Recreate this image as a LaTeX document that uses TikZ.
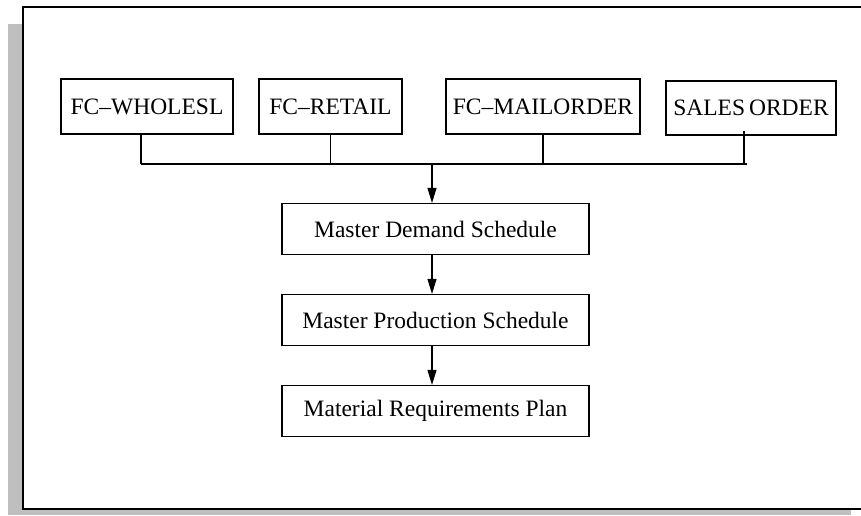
\documentclass[tikz,border=0pt]{standalone}
\usepackage{fontspec}
\setmainfont{Liberation Serif}
\usetikzlibrary{arrows.meta,positioning}
\definecolor{shadec}{HTML}{BFBFBF}

\begin{document}
\begin{tikzpicture}[
    x=1pt,y=-1pt,
    font=\fontsize{23.5}{27}\selectfont,
    box/.style={draw,line width=1.2pt,minimum width=#1,minimum height=55pt,inner sep=0pt},
    plan/.style={draw,line width=1.2pt,minimum width=307pt,minimum height=51pt,inner sep=0pt},
    wire/.style={line width=1.2pt},
    flow/.style={line width=1.2pt,-{Triangle[length=15pt,width=9pt]}},
  ]
\useasboundingbox (0,0) rectangle (861,515);

% ======================= frame with shadow =======================
\fill[shadec] (8,24) rectangle (851,515);
\fill[white] (23,7) rectangle (870,509);
\draw[line width=2.6pt] (23,7) rectangle (870,509);

% ======================= forecast / order sources =======================
\node[box=172pt] (whl)   at (147,106.5) {FC--WHOLESL};
\node[box=143pt] (ret)   at (330.5,106.5) {FC--RETAIL};
\node[box=194pt] (mail)  at (543,106.5) {FC--MAILORDER};
\node[box=170pt,minimum height=54pt] (sales) at (751,108) {SALES\,ORDER};

% collecting bus
\coordinate (busL) at (141,164);
\coordinate (busR) at (747,164);
\coordinate (busM) at (432,164);
\draw[wire] (busL) -- (busR);
\draw[wire] ([xshift=-6pt]whl.south) -- ([xshift=-6pt]whl.south |- busL);
\draw[wire] (ret.south) -- (ret.south |- busL);
\draw[wire] (mail.south) -- (mail.south |- busL);
\draw[wire] ([xshift=-7pt,yshift=5pt]sales.south) -- ([xshift=-7pt]sales.south |- busL);

% ======================= planning chain =======================
\node[plan] (mds) at (435.5,229) {Master Demand Schedule};
\node[plan] (mps) at (435.5,320) {Master Production Schedule};
\node[plan] (mrp) at (435.5,411) {Material Requirements Plan};

\draw[flow] (busM) -- (busM |- mds.north);
\draw[flow] (mds.south -| busM) -- (mps.north -| busM);
\draw[flow] (mps.south -| busM) -- (mrp.north -| busM);

\end{tikzpicture}
\end{document}
